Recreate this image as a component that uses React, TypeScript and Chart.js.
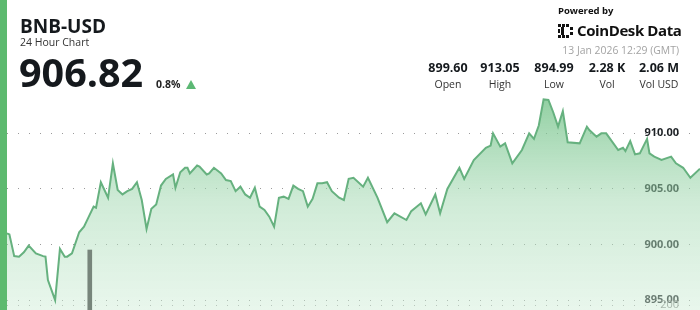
import React, { useEffect, useRef } from "react";
import { Chart, registerables } from "chart.js";

Chart.register(...registerables);

// minutes since start of the 24h window
const TIME_MIN = [
  0, 5, 15, 25, 35, 45, 60, 75, 80, 85,
  100, 110, 120, 125, 135, 150, 160, 170, 180, 185,
  195, 210, 220, 230, 240, 250, 260, 270, 280, 290,
  300, 310, 320, 330, 345, 350, 360, 370, 375, 380,
  395, 400, 415, 420, 430, 445, 455, 465, 475, 485,
  495, 505, 515, 525, 535, 545, 555, 565, 575, 585,
  595, 605, 615, 625, 635, 645, 655, 665, 675, 690,
  700, 710, 720, 740, 750, 770, 790, 805, 830, 840,
  860, 870, 890, 900, 915, 940, 950, 970, 995, 1005,
  1010, 1025, 1035, 1050, 1070, 1085, 1095, 1105, 1115, 1125,
  1135, 1145, 1155, 1165, 1190, 1205, 1210, 1225, 1235, 1245,
  1270, 1280, 1285, 1295, 1305, 1315, 1330, 1335, 1345, 1360,
  1380, 1390, 1405, 1420, 1440,
];

const PRICES = [
  901.0, 900.9, 898.95, 898.9, 899.3, 899.9, 899.2, 898.95, 898.9, 896.8,
  894.99, 899.6, 898.9, 898.9, 899.2, 901.1, 901.6, 902.5, 903.4, 903.3,
  905.6, 904.2, 907.3, 904.9, 904.5, 904.8, 905.0, 905.6, 904.0, 901.4,
  903.2, 903.6, 905.3, 905.9, 906.3, 905.1, 906.5, 906.9, 906.9, 906.4,
  907.1, 907.0, 906.3, 906.4, 906.9, 906.4, 905.8, 905.7, 904.8, 905.2,
  904.5, 904.2, 905.1, 903.4, 903.1, 902.5, 901.6, 904.2, 904.3, 904.1,
  905.3, 905.0, 904.8, 903.4, 904.1, 905.5, 905.5, 905.6, 904.8, 904.2,
  904.0, 905.9, 906.0, 905.2, 906.0, 904.2, 902.0, 902.8, 902.2, 903.0,
  903.7, 902.7, 904.5, 902.8, 905.0, 906.9, 905.9, 907.6, 908.7, 908.9,
  910.0, 908.8, 909.1, 907.3, 908.5, 910.0, 909.5, 910.7, 913.05, 913.0,
  911.9, 910.6, 912.0, 909.2, 909.1, 910.6, 910.3, 909.7, 910.0, 910.0,
  908.5, 908.7, 908.4, 909.3, 908.1, 908.2, 909.5, 908.2, 907.9, 907.6,
  907.9, 907.3, 906.9, 906.0, 906.82,
];

const VOLUME_TIME_MIN = [172];
const VOLUME = [420];

const PRICE_TICKS = [895, 900, 905, 910];
const VOLUME_TICKS = [200];

const STAT_VALUES = ["899.60", "913.05", "894.99", "2.28 K", "2.06 M"];
const STAT_LABELS = ["Open", "High", "Low", "Vol", "Vol USD"];
const STAT_CENTERS = [448, 500, 554, 607, 659];

const FONT = "'Open Sans', 'Noto Sans', sans-serif";

function Logo() {
  return (
    <svg width="16" height="14" viewBox="0 0 16 14" style={{ position: "absolute", left: 558, top: 24 }}>
      <rect x="0" y="0" width="3" height="3" fill="#111" />
      <rect x="4" y="0" width="3" height="3" fill="#111" />
      <rect x="8" y="0" width="3" height="3" fill="#111" />
      <rect x="3" y="3" width="3" height="8" fill="#111" />
      <rect x="0" y="5" width="2" height="4" fill="#111" />
      <rect x="0" y="11" width="3" height="3" fill="#111" />
      <rect x="4" y="11" width="3" height="3" fill="#111" />
      <rect x="8" y="11" width="3" height="3" fill="#111" />
      <rect x="12" y="3" width="3" height="3" fill="#111" />
      <rect x="12" y="8" width="3" height="3" fill="#111" />
    </svg>
  );
}

const zeroFit = (s: any) => {
  s.width = 0;
  s.paddingTop = 0;
  s.paddingBottom = 0;
  s.paddingLeft = 0;
  s.paddingRight = 0;
};

export default function App() {
  const ref = useRef<HTMLCanvasElement>(null);

  useEffect(() => {
    const canvas = ref.current;
    if (!canvas) return;
    const chart = new Chart(canvas, {
      type: "line",
      data: {
        datasets: [
          {
            type: "bar",
            data: VOLUME_TIME_MIN.map((x, i) => ({ x, y: VOLUME[i] })),
            yAxisID: "y1",
            backgroundColor: "#77857b",
            barThickness: 4,
            order: 0,
          } as any,
          {
            type: "line",
            data: TIME_MIN.map((x, i) => ({ x, y: PRICES[i] })),
            yAxisID: "y",
            borderColor: "#66b17f",
            borderWidth: 2,
            pointRadius: 0,
            tension: 0,
            fill: "start",
            order: 1,
            backgroundColor: (ctx: any) => {
              const { chart } = ctx;
              const a = chart.chartArea;
              if (!a) return "rgba(120,200,140,0.5)";
              const g = chart.ctx.createLinearGradient(0, a.top, 0, a.bottom);
              g.addColorStop(0, "rgba(95,185,120,0.85)");
              g.addColorStop(0.32, "rgba(110,192,132,0.75)");
              g.addColorStop(0.65, "rgba(160,215,175,0.5)");
              g.addColorStop(1, "rgba(205,236,213,0.45)");
              return g;
            },
          },
        ],
      },
      options: {
        animation: false,
        responsive: false,
        maintainAspectRatio: false,
        layout: { autoPadding: false, padding: { left: 7, right: 0, top: 0, bottom: 0 } },
        plugins: { legend: { display: false }, tooltip: { enabled: false } },
        scales: {
          x: { type: "linear", min: 0, max: 1440, display: false, offset: false },
          y: {
            position: "right",
            min: 894.1,
            max: 922.0,
            afterFit: zeroFit,
            afterBuildTicks: (s: any) => {
              s.ticks = PRICE_TICKS.map((v) => ({ value: v }));
            },
            ticks: {
              mirror: true,
              padding: -21,
              color: "#1d2125",
              font: { family: FONT, size: 11, weight: "bold" },
              callback: (v: any) => Number(v).toFixed(2),
            },
            grid: { color: "#9a9a9a", drawTicks: false, lineWidth: 1 },
            border: { display: false, dash: [1, 10] },
          },
          y1: {
            position: "right",
            min: 180,
            max: 1420,
            afterFit: zeroFit,
            afterBuildTicks: (s: any) => {
              s.ticks = VOLUME_TICKS.map((v) => ({ value: v }));
            },
            ticks: {
              mirror: true,
              padding: -21,
              color: "#8a8a8a",
              font: { family: FONT, size: 11 },
            },
            grid: { color: "#a8a8a8", drawTicks: false, lineWidth: 1 },
            border: { display: false, dash: [1, 10] },
          },
        },
      } as any,
    });
    return () => chart.destroy();
  }, []);

  return (
    <div
      style={{
        position: "fixed",
        left: 0,
        top: 0,
        width: 700,
        height: 310,
        overflow: "hidden",
        background: "#fff",
        fontFamily: FONT,
      }}
    >
      <canvas ref={ref} width={700} height={310} style={{ position: "absolute", left: 0, top: 0, display: "block" }} />
      <div style={{ position: "absolute", left: 0, top: 0, width: 7, height: 310, background: "#5dba6f" }} />
      <div style={{ position: "absolute", left: 20, top: 16.6, fontSize: 19, fontWeight: 700, lineHeight: 1, color: "#15191d" }}>
        BNB-USD
      </div>
      <div style={{ position: "absolute", left: 20, top: 37.4, fontSize: 10.5, lineHeight: 1, color: "#333" }}>
        24 Hour Chart
      </div>
      <div style={{ position: "absolute", left: 19, top: 53, fontSize: 39.5, fontWeight: 700, lineHeight: 1, color: "#15191d" }}>
        906.82
      </div>
      <div style={{ position: "absolute", left: 156, top: 78.5, fontSize: 10.5, fontWeight: 700, lineHeight: 1, color: "#222" }}>
        0.8%
      </div>
      <div
        style={{
          position: "absolute",
          left: 186,
          top: 80,
          width: 0,
          height: 0,
          borderLeft: "5.5px solid transparent",
          borderRight: "5.5px solid transparent",
          borderBottom: "9px solid #5cb874",
        }}
      />
      <div style={{ position: "absolute", left: 558, top: 5.5, fontSize: 9.5, fontWeight: 700, lineHeight: 1, color: "#111" }}>
        Powered by
      </div>
      <Logo />
      <div
        style={{
          position: "absolute",
          left: 577,
          top: 22.5,
          fontSize: 15,
          fontWeight: 700,
          lineHeight: 1,
          color: "#111",
          letterSpacing: -0.4,
        }}
      >
        CoinDesk Data
      </div>
      <div style={{ position: "absolute", right: 21, top: 45, fontSize: 10.4, lineHeight: 1, color: "#a3a3a3" }}>
        13 Jan 2026 12:29 (GMT)
      </div>
      {STAT_VALUES.map((v, i) => (
        <div
          key={v}
          style={{
            position: "absolute",
            left: STAT_CENTERS[i] - 35,
            width: 70,
            top: 61.5,
            textAlign: "center",
            lineHeight: 1,
          }}
        >
          <div style={{ fontSize: 12.5, fontWeight: 700, color: "#15191d" }}>{v}</div>
          <div style={{ fontSize: 10.5, color: "#333", marginTop: 5 }}>{STAT_LABELS[i]}</div>
        </div>
      ))}
    </div>
  );
}
